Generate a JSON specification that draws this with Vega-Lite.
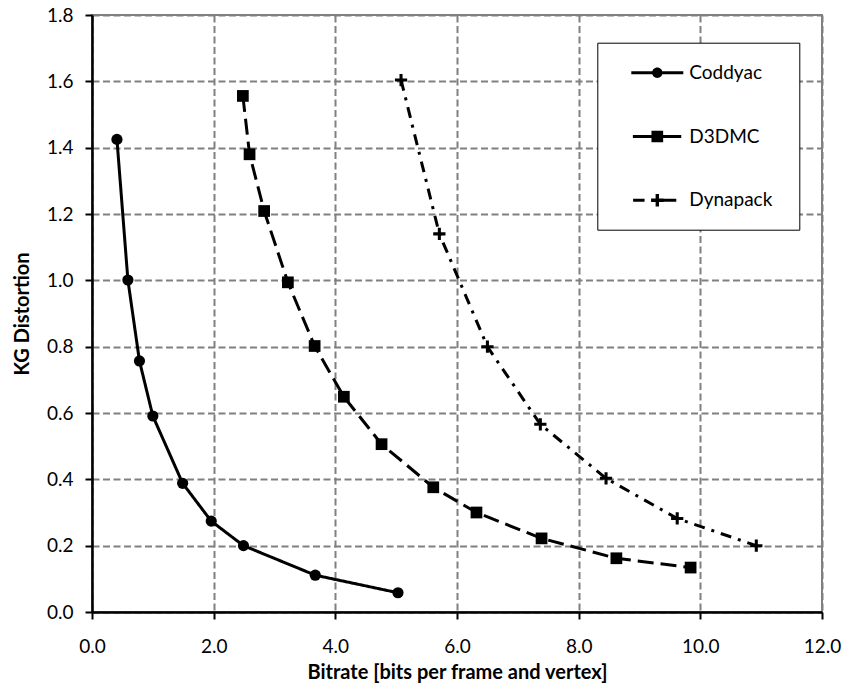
{
  "$schema": "https://vega.github.io/schema/vega-lite/v6.json",
  "width": 730,
  "height": 597,
  "autosize": {"type": "none"},
  "padding": {"left": 92, "top": 15, "right": 23, "bottom": 86},
  "background": "white",
  "config": {
    "view": {"stroke": "#808080", "strokeWidth": 2},
    "axis": {
      "domainColor": "black",
      "domainWidth": 2.5,
      "tickColor": "black",
      "tickWidth": 2,
      "tickSize": 7,
      "labelFont": "Lato",
      "labelFontSize": 19,
      "labelColor": "black",
      "labelFlush": false,
      "labelOverlap": false,
      "titleFont": "Lato",
      "titleFontSize": 20,
      "titleFontWeight": "bold",
      "titleColor": "black",
      "gridColor": "#808080",
      "gridWidth": 2,
      "gridDash": [7, 3.5],
      "gridOpacity": 1
    }
  },
  "data": {
    "values": [
      {"series": "Coddyac", "x": 0.41, "y": 1.425},
      {"series": "Coddyac", "x": 0.59, "y": 1.001},
      {"series": "Coddyac", "x": 0.78, "y": 0.757},
      {"series": "Coddyac", "x": 1.0, "y": 0.591},
      {"series": "Coddyac", "x": 1.49, "y": 0.388},
      {"series": "Coddyac", "x": 1.96, "y": 0.274},
      {"series": "Coddyac", "x": 2.49, "y": 0.2},
      {"series": "Coddyac", "x": 3.67, "y": 0.111},
      {"series": "Coddyac", "x": 5.03, "y": 0.058},
      {"series": "D3DMC", "x": 2.48, "y": 1.556},
      {"series": "D3DMC", "x": 2.59, "y": 1.38},
      {"series": "D3DMC", "x": 2.83, "y": 1.209},
      {"series": "D3DMC", "x": 3.22, "y": 0.994},
      {"series": "D3DMC", "x": 3.66, "y": 0.802},
      {"series": "D3DMC", "x": 4.14, "y": 0.649},
      {"series": "D3DMC", "x": 4.76, "y": 0.506},
      {"series": "D3DMC", "x": 5.61, "y": 0.376},
      {"series": "D3DMC", "x": 6.32, "y": 0.3},
      {"series": "D3DMC", "x": 7.39, "y": 0.222},
      {"series": "D3DMC", "x": 8.62, "y": 0.162},
      {"series": "D3DMC", "x": 9.84, "y": 0.134},
      {"series": "Dynapack", "x": 5.08, "y": 1.604},
      {"series": "Dynapack", "x": 5.71, "y": 1.14},
      {"series": "Dynapack", "x": 6.5, "y": 0.8},
      {"series": "Dynapack", "x": 7.37, "y": 0.566},
      {"series": "Dynapack", "x": 8.45, "y": 0.403},
      {"series": "Dynapack", "x": 9.62, "y": 0.282},
      {"series": "Dynapack", "x": 10.92, "y": 0.2}
    ]
  },
  "encoding": {
    "x": {
      "field": "x", "type": "quantitative",
      "scale": {"domain": [0, 12], "nice": false, "zero": false},
      "axis": {"values": [0, 2, 4, 6, 8, 10, 12], "format": ".1f", "labelPadding": 18, "titlePadding": 6, "title": "Bitrate [bits per frame and vertex]"}
    },
    "y": {
      "field": "y", "type": "quantitative",
      "scale": {"domain": [0, 1.8], "nice": false, "zero": false},
      "axis": {"values": [0, 0.2, 0.4, 0.6, 0.8, 1.0, 1.2, 1.4, 1.6, 1.8], "format": ".1f", "labelPadding": 12, "titlePadding": 14, "title": "KG Distortion"}
    }
  },
  "layer": [
    {
      "mark": {"type": "line", "color": "black", "strokeWidth": 3},
      "encoding": {
        "detail": {"field": "series"},
        "strokeDash": {
          "field": "series", "type": "nominal",
          "scale": {"domain": ["Coddyac", "D3DMC", "Dynapack"], "range": [[1, 0], [16, 7], [11, 7, 3, 7]]},
          "legend": null
        }
      }
    },
    {
      "mark": {"type": "point", "filled": true, "color": "black", "opacity": 1},
      "encoding": {
        "shape": {
          "field": "series", "type": "nominal",
          "scale": {"domain": ["Coddyac", "D3DMC", "Dynapack"], "range": ["circle", "square", "M-1,-0.25H-0.25V-1H0.25V-0.25H1V0.25H0.25V1H-0.25V0.25H-1Z"]},
          "legend": null
        },
        "size": {
          "field": "series", "type": "nominal",
          "scale": {"domain": ["Coddyac", "D3DMC", "Dynapack"], "range": [125, 150, 240]},
          "legend": null
        }
      }
    },
    {
      "transform": [{"filter": "false"}],
      "mark": {"type": "point", "filled": true, "color": "black", "size": 2704},
      "encoding": {
        "shape": {
          "field": "series", "type": "nominal",
          "scale": {"domain": ["Coddyac", "D3DMC", "Dynapack"], "range": [
            "M0,-1.05M0,0.87M-1,-0.058H-0.19V0.058H-1ZM0.2,0A0.2,0.2 0 1,1 -0.2,0A0.2,0.2 0 1,1 0.2,0ZM0.19,-0.058H1V0.058H0.19Z",
            "M0,-1.05M0,0.87M-0.94,-0.058H-0.22V0.058H-0.94ZM-0.225,-0.225H0.225V0.225H-0.225ZM0.22,-0.058H0.92V0.058H0.22Z",
            "M0,-1.05M0,0.87M-0.93,-0.058H-0.49V0.058H-0.93ZM-0.24,-0.065H-0.065V-0.24H0.065V-0.065H0.24V0.065H0.065V0.24H-0.065V0.065H-0.24ZM0.23,-0.058H0.73V0.058H0.23Z"
          ]},
          "legend": {
            "orient": "none",
            "legendX": 505.3,
            "legendY": 27.7,
            "title": "\u00a0",
            "titleOrient": "right",
            "titleFontSize": 2,
            "titlePadding": 24,
            "padding": 3,
            "symbolOffset": 30,
            "symbolSize": 2704,
            "symbolFillColor": "black",
            "symbolOpacity": 1,
            "labelOffset": 5,
            "labelFont": "Lato",
            "labelFontSize": 19,
            "labelColor": "black",
            "rowPadding": 6.8,
            "fillColor": "white",
            "strokeColor": "black",
            "encode": {
              "legend": {"strokeWidth": {"value": 2}},
              "symbols": {"fill": {"value": "black"}, "opacity": {"value": 1}}
            }
          }
        }
      }
    }
  ],
  "resolve": {"scale": {"shape": "independent", "size": "independent"}}
}
